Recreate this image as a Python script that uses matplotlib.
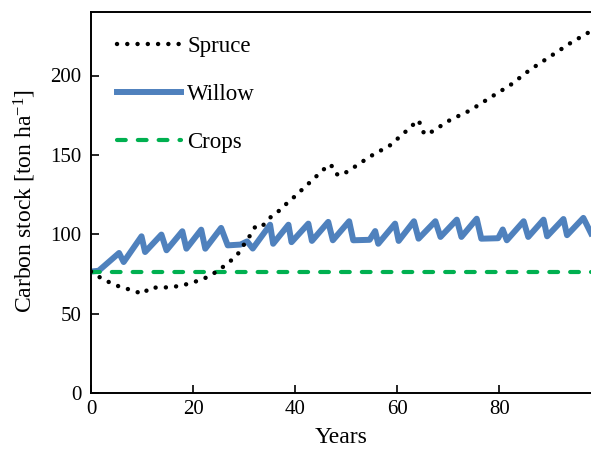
import numpy as np
from matplotlib import pyplot as plt

plt.rcParams['font.family'] = ['Liberation Serif', 'DejaVu Serif']
plt.rcParams['mathtext.fontset'] = 'custom'
plt.rcParams['mathtext.rm'] = 'Liberation Serif'
plt.rcParams['mathtext.it'] = 'Liberation Serif:italic'

# Spruce carbon stock
spruce_years = [0, 2, 4, 5.9, 7.9, 10.1, 11.6, 13.5, 15.4, 17.7, 20, 22, 23.9, 25.7,
                27.5, 29, 30.1, 31.3, 32.4, 33.8, 35.2, 36.9, 38.4, 40, 42, 44, 46,
                47, 48, 49, 51, 54.7, 58.6, 62.5, 64.1, 64.8, 65.3, 66.5, 70.4, 74.3,
                78.2, 82.2, 86, 90, 94, 98]
spruce = [76.5, 72.3, 69.1, 66.6, 64.9, 62.4, 66.4, 66.4, 66.6, 67.6, 69.7, 71.8, 75, 79,
          83.6, 88.4, 94.1, 99.8, 105.9, 105.9, 110.7, 114.9, 119.5, 124, 130, 136, 142,
          144, 138, 137, 141, 149, 156, 167, 172, 168, 163, 164, 172, 178,
          186, 194, 203.5, 212, 220.5, 228]

# Willow: harvest cycles
willow_years = [0, 1.5, 5.5, 6.4, 9.9, 10.6, 13.8, 14.8, 17.9, 18.7, 21.6, 22.4, 25.5, 26.8,
                29.3, 30.6, 31.7, 35.1, 35.7, 38.7, 39.3, 42.6, 43.3, 46.5, 47.4, 50.6,
                51.4, 54.6, 55.7, 56.3, 59.6, 60.3, 63.3, 64.2, 67.5, 68.5, 71.7, 72.6,
                75.6, 76.5, 79.8, 80.7, 81.5, 84.8, 85.7, 88.7, 89.4, 92.6, 93.3, 96.5, 98]
willow = [76.5, 77, 88.2, 82.5, 98.7, 88.8, 99.8, 89.9, 101.9, 90.9, 102.9, 90.9, 104, 93,
          93.5, 95.5, 91, 106, 94, 106, 95, 106.7, 95.8, 107.8, 96.2, 108.2,
          96.2, 96.5, 102, 94, 106.7, 95.8, 108.2, 97.2, 108.2, 98.3, 109.2, 98.3,
          109.8, 97.2, 97.5, 103, 96.2, 108.2, 98.3, 109.2, 98.7, 109.6, 99.4, 110.3, 100.6]

crops_years = [0, 98]
crops = [76.5, 76.5]

fig = plt.figure(figsize=(5.91, 4.49), dpi=100)
ax = fig.add_axes([91 / 591, 56 / 449, 500 / 591, 381 / 449])

ax.plot(spruce_years, spruce, color='black', lw=3.2, linestyle=(0, (0.01, 2.3)),
        dash_capstyle='round', label='Spruce', zorder=3)
ax.plot(willow_years, willow, color='#4f81bd', lw=4.3, label='Willow', zorder=2)
ax.plot(crops_years, crops, color='#00b050', lw=3.0, linestyle=(0, (2.1, 2.9)),
        dash_capstyle='round', label='Crops', zorder=2.5)

ax.set_xlim(0, 98)
ax.set_ylim(0, 240)
ax.set_xticks([0, 20, 40, 60, 80])
ax.set_yticks([0, 50, 100, 150, 200])
ax.spines['right'].set_visible(False)
for s in ['left', 'bottom', 'top']:
    ax.spines[s].set_linewidth(1.4)
ax.tick_params(direction='in', length=6, width=1.2, labelsize=15, pad=7)
ax.tick_params(axis='x', pad=5)

ax.set_xlabel('Years', fontsize=17)
ax.set_ylabel('Carbon stock [ton ha$^{-1}$]', fontsize=17)
ax.xaxis.set_label_coords(0.5, -0.09)
ax.yaxis.set_label_coords(-0.106, 0.505)

ax.legend(loc='upper left', bbox_to_anchor=(0.034, 0.962), frameon=False, fontsize=16.5,
          handlelength=2.8, handletextpad=0.25, labelspacing=1.18, borderaxespad=0)

plt.savefig('out.png', dpi=100)
